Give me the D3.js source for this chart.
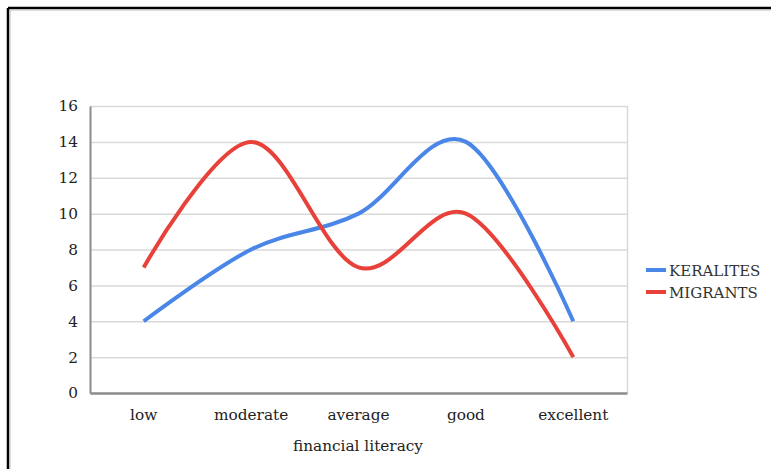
<!DOCTYPE html>
<html>
<head>
<meta charset="utf-8">
<script src="https://cdn.jsdelivr.net/npm/d3@7"></script>
<style>
  body { margin: 0; background: #fff; }
  svg { display: block; }
</style>
</head>
<body>
<div id="chart"></div>
<script>
// 数据
const categories = ['low', 'moderate', 'average', 'good', 'excellent']
const keralites = [4, 8, 10, 14, 4]
const migrants = [7, 14, 7, 10, 2]
const yTicks = [0, 2, 4, 6, 8, 10, 12, 14, 16]
const seriesNames = ['KERALITES', 'MIGRANTS']
const colors = ['#4a86e8', '#e8413a']

const width = 771, height = 469
const plot = { left: 90, right: 627, top: 106, bottom: 393 }
const font = '"DejaVu Serif", serif'
const fontSize = 15.3

const svg = d3.select('#chart')
    .append('svg')
    .attr('width', width)
    .attr('height', height)

// 外框
svg.append('line').attr('x1', 8).attr('y1', 8).attr('x2', width).attr('y2', 8)
    .attr('stroke', '#000').attr('stroke-width', 2.5)
svg.append('line').attr('x1', 8).attr('y1', 8).attr('x2', 8).attr('y2', height)
    .attr('stroke', '#000').attr('stroke-width', 2.5)
svg.append('line').attr('x1', 10).attr('y1', 10).attr('x2', width).attr('y2', 10)
    .attr('stroke', '#bbb').attr('stroke-width', 1)
svg.append('line').attr('x1', 10).attr('y1', 10).attr('x2', 10).attr('y2', height)
    .attr('stroke', '#bbb').attr('stroke-width', 1)

const xScale = d3.scaleBand().domain(categories).range([plot.left, plot.right])
const yScale = d3.scaleLinear().domain([0, 16]).range([plot.bottom, plot.top])

// 网格线
svg.append('g')
    .selectAll('line')
    .data(yTicks)
    .enter()
    .append('line')
    .attr('x1', plot.left)
    .attr('x2', plot.right)
    .attr('y1', d => yScale(d) + 0.5)
    .attr('y2', d => yScale(d) + 0.5)
    .attr('stroke', '#d9d9d9')
    .attr('stroke-width', 1.5)

// 右边框
svg.append('line')
    .attr('x1', plot.right + 0.5).attr('x2', plot.right + 0.5)
    .attr('y1', plot.top).attr('y2', plot.bottom)
    .attr('stroke', '#d9d9d9').attr('stroke-width', 1.5)

// 坐标轴
const yAxis = d3.axisLeft(yScale).tickValues(yTicks).tickSize(0).tickPadding(12)
svg.append('g')
    .attr('class', 'y-axis')
    .attr('transform', `translate(${plot.left}, 0)`)
    .call(yAxis)
    .call(g => g.select('.domain').attr('stroke', '#8c8c8c').attr('stroke-width', 2))
    .call(g => g.selectAll('text').attr('font-family', font).attr('font-size', fontSize).attr('fill', '#222'))

const xAxis = d3.axisBottom(xScale).tickSize(0).tickPadding(16)
svg.append('g')
    .attr('class', 'x-axis')
    .attr('transform', `translate(0, ${plot.bottom})`)
    .call(xAxis)
    .call(g => g.select('.domain').attr('stroke', '#8c8c8c').attr('stroke-width', 2.5))
    .call(g => g.selectAll('text').attr('font-family', font).attr('font-size', fontSize).attr('fill', '#222'))

svg.append('text')
    .attr('x', 358)
    .attr('y', 451)
    .attr('text-anchor', 'middle')
    .attr('font-family', font)
    .attr('font-size', fontSize)
    .attr('fill', '#222')
    .text('financial literacy')

// 折线
const line = d3.line()
    .x((d, i) => xScale(categories[i]) + xScale.bandwidth() / 2)
    .y(d => yScale(d))
    .curve(d3.curveCatmullRom.alpha(0))

const allSeries = [keralites, migrants]
svg.selectAll('path.path')
    .data(allSeries)
    .enter()
    .append('path')
    .attr('class', 'path')
    .attr('d', d => line(d))
    .attr('fill', 'none')
    .attr('stroke', (d, i) => colors[i])
    .attr('stroke-width', 4)

// 图例
const legend = svg.append('g').attr('transform', 'translate(646, 270)')
seriesNames.forEach((name, i) => {
    const g = legend.append('g').attr('transform', `translate(0, ${i * 22})`)
    g.append('line').attr('x1', 0).attr('x2', 20).attr('y1', 0).attr('y2', 0)
        .attr('stroke', colors[i]).attr('stroke-width', 4)
    g.append('text').attr('x', 23).attr('y', 5.5)
        .attr('font-family', font).attr('font-size', 15)
        .attr('fill', '#333')
        .text(name)
})
</script>
</body>
</html>
